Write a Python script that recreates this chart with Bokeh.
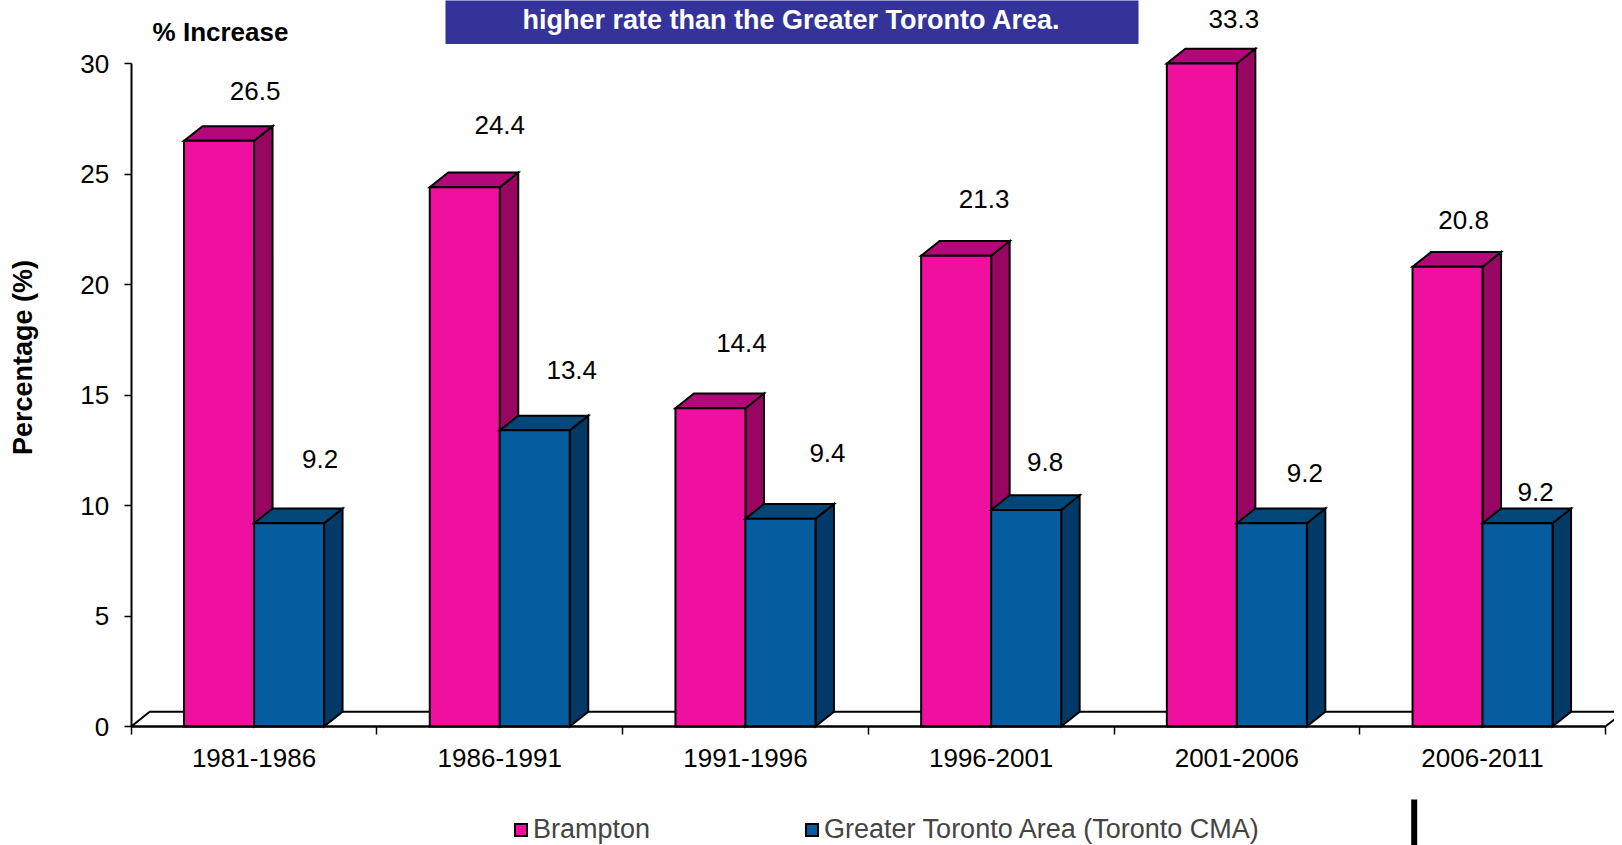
import math
import numpy as np
from bokeh.plotting import figure
from bokeh.models import (LinearAxis, FixedTicker, Range1d, ColumnDataSource, Label,
                          BoxAnnotation, Legend, LegendItem)
from bokeh.core.properties import value
from bokeh.embed import file_html
from bokeh.resources import INLINE

# ---------------- data ----------------
periods = ["1981-1986", "1986-1991", "1991-1996", "1996-2001", "2001-2006", "2006-2011"]
brampton = [26.5, 24.4, 14.4, 21.3, 33.3, 20.8]
gta = [9.2, 13.4, 9.4, 9.8, 9.2, 9.2]
y_ticks = [0, 5, 10, 15, 20, 25, 30]
series_names = ["Brampton", "Greater Toronto Area (Toronto CMA)"]
y_max = 30

# value-label placement: pixel offsets from each bar's front-top centre
b_label_dx = [36, 35, 31, 28, 32, 16]
b_label_dy = [-50, -62, -65, -57, -45, -47]
g_label_dx = [31, 37, 47, 19, 33, 18]
g_label_dy = [-64, -60, -66, -48, -50, -31]

# ---------------- styles ----------------
FONT = "Liberation Sans"
PINK = dict(front="#F010A0", top="#B4087A", side="#980662")
BLUE = dict(front="#055C9E", top="#034678", side="#033966")
W, H = 1614, 845

# pixel geometry (picture coordinates) used to set the ranges
AX_LEFT = 130.7
CAT_W = 245.7
ZERO_Y = 726.0
UNIT = 22.1


def px_x(px):
    return -0.5 + (px - AX_LEFT) / CAT_W


def px_y(py):
    return (ZERO_Y - py) / UNIT


BW = 70 / CAT_W          # bar width in data units
DXD = 18.5 / CAT_W       # 3-D depth (x)
DYD = 14.7 / UNIT        # 3-D depth (y)

n = len(periods)
idx = np.arange(n)

p = figure(width=W, height=H,
           x_range=Range1d(px_x(0), px_x(W)),
           y_range=Range1d(px_y(H), px_y(0)),
           output_backend="svg", toolbar_location=None,
           x_axis_location=None, y_axis_location=None,
           min_border=0, outline_line_color=None,
           background_fill_color="white", border_fill_color="white")
p.grid.visible = False

# floor
p.patch(x=[-0.5, n - 0.5, n - 0.5 + DXD, -0.5 + DXD], y=[0, 0, DYD, DYD],
        fill_color="white", line_color="black", line_width=2)


def bars3d(lefts, heights, col):
    rights = lefts + BW
    side_xs = [[r, r, r + DXD, r + DXD] for r in rights]
    side_ys = [[0, h, h + DYD, DYD] for h in heights]
    top_xs = [[l, r, r + DXD, l + DXD] for l, r in zip(lefts, rights)]
    top_ys = [[h, h, h + DYD, h + DYD] for h in heights]
    p.patches(side_xs, side_ys, fill_color=col["side"], line_color="black",
              line_width=2, line_join="miter")
    p.patches(top_xs, top_ys, fill_color=col["top"], line_color="black",
              line_width=2, line_join="miter")
    return p.quad(left=lefts, right=rights, bottom=0, top=heights,
                  fill_color=col["front"], line_color="black", line_width=2,
                  line_join="miter")


bh = np.minimum(np.array(brampton), y_max)
gh = np.minimum(np.array(gta), y_max)
r_b = bars3d(idx - BW, bh, PINK)
r_g = bars3d(idx.astype(float), gh, BLUE)

# value labels
lab_src = ColumnDataSource(dict(
    x=list(idx - BW / 2) + list(idx + BW / 2),
    y=list(bh) + list(gh),
    t=[f"{v:.1f}" for v in brampton] + [f"{v:.1f}" for v in gta],
    xo=b_label_dx + g_label_dx,
    yo=b_label_dy + g_label_dy,
))
p.text(x="x", y="y", text="t", x_offset="xo", y_offset="yo", source=lab_src,
       text_align="center", text_baseline="middle",
       text_font_size="26px", text_color="black", text_font=value(FONT))

# axes
yax = LinearAxis(fixed_location=-0.5, ticker=FixedTicker(ticks=y_ticks), bounds=(0, y_max),
                 major_tick_out=7, major_tick_in=0, minor_tick_out=0, minor_tick_in=0,
                 axis_line_width=2, major_tick_line_width=1.5,
                 major_label_standoff=15, major_label_text_font=FONT,
                 major_label_text_font_size="26px", major_label_text_color="black")
p.add_layout(yax, "left")

xax = LinearAxis(fixed_location=0,
                 ticker=FixedTicker(ticks=list(range(n)), minor_ticks=[i - 0.5 for i in range(n + 1)]),
                 bounds=(-0.5, n - 0.5),
                 major_tick_out=0, major_tick_in=0, minor_tick_out=8, minor_tick_in=0,
                 minor_tick_line_color="black", minor_tick_line_width=1.5,
                 axis_line_width=2,
                 major_label_overrides={i: periods[i] for i in range(n)},
                 major_label_standoff=14, major_label_text_font=FONT,
                 major_label_text_font_size="26px", major_label_text_color="black")
p.add_layout(xax, "below")

# title box (its first line lies above the picture)
p.add_layout(BoxAnnotation(left=px_x(445), right=px_x(1138), bottom=px_y(43.5), top=px_y(-30),
                           fill_color="#333399", fill_alpha=1, line_color=None))
p.add_layout(Label(x=px_x(791), y=px_y(19), text="higher rate than the Greater Toronto Area.",
                   text_color="white", text_font=FONT, text_font_style="bold",
                   text_font_size="27px", text_align="center", text_baseline="middle"))
p.add_layout(Label(x=px_x(220), y=px_y(31), text="% Increase",
                   text_color="black", text_font=FONT, text_font_style="bold",
                   text_font_size="26px", text_align="center", text_baseline="middle"))
p.add_layout(Label(x=px_x(22), y=px_y(357), text="Percentage (%)", angle=math.pi / 2,
                   text_color="black", text_font=FONT, text_font_style="bold",
                   text_font_size="27px", text_align="center", text_baseline="middle"))

# stray black bar at the bottom
p.add_layout(BoxAnnotation(left=px_x(1410.7), right=px_x(1416.7), bottom=px_y(900), top=px_y(799),
                           fill_color="black", fill_alpha=1, line_color=None))

legend = Legend(items=[LegendItem(label=series_names[0], renderers=[r_b]),
                       LegendItem(label=series_names[1], renderers=[r_g])],
                orientation="horizontal", location=(513, 0), padding=0, margin=0,
                spacing=154, label_standoff=5, glyph_width=15, glyph_height=15,
                border_line_color=None, background_fill_alpha=0,
                label_text_font=FONT, label_text_font_size="27px")
p.add_layout(legend)

open("out.html", "w").write(file_html(p, INLINE))
